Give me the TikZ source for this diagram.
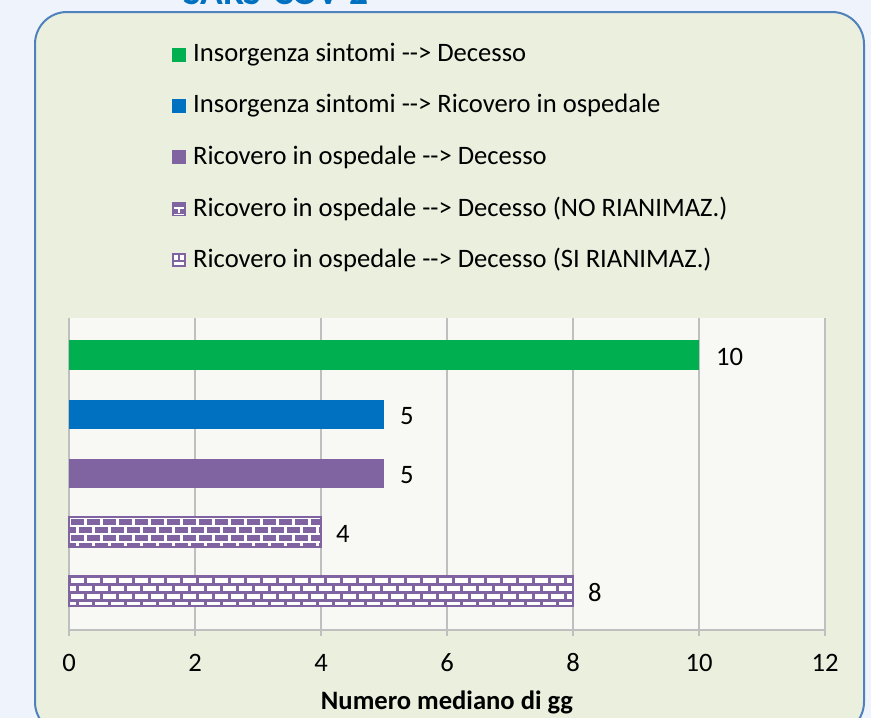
\documentclass[tikz,border=0pt]{standalone}
\usepackage{fontspec}
\setmainfont{Carlito}[Ligatures=TeXOff]
\definecolor{pagebg}{HTML}{EEF3FC}
\definecolor{panelbg}{HTML}{EBEFDE}
\definecolor{plotbg}{HTML}{F8F9F4}
\definecolor{panelline}{HTML}{4F81BD}
\definecolor{gridc}{HTML}{BFBFBF}
\definecolor{cgreen}{HTML}{00B050}
\definecolor{cblue}{HTML}{0070C0}
\definecolor{cpurple}{HTML}{8064A2}
\tikzset{
  lbl/.style={font=\fontsize{26.6}{26.6}\selectfont, text=black, inner sep=0pt},
  legtext/.style={lbl, anchor=west},
  gridline/.style={draw=gridc, line width=1.3pt},
}
\begin{document}
\begin{tikzpicture}[x=1pt,y=-1pt]
\useasboundingbox (0,0) rectangle (871,718);
\begin{scope}
\clip (0,0) rectangle (871,718);
\fill[pagebg] (0,0) rectangle (871,718);
\node[anchor=base west, inner sep=0pt, text=cblue, font=\fontsize{37.5}{37.5}\selectfont\bfseries] (title) at (183,4) {SARS-COV-2};
\draw[fill=panelbg, draw=panelline, line width=2pt, rounded corners=32pt] (35,12) rectangle (864,734);
% plot area
\fill[plotbg] (69,318) rectangle (825,630);
\foreach \i in {0,...,6} {
  \draw[gridline] ({69+126*\i},318) -- ({69+126*\i},636);
  \node[lbl] (tick\i) at ({69+126*\i},663) {\the\numexpr 2*\i\relax};
}
\draw[gridline] (69,630) -- (825,630);
% bars
\fill[cgreen] (69,340) rectangle (699,370);
\node[lbl, anchor=west] (v1) at (716,357) {10};
\fill[cblue] (69,400) rectangle (384,429);
\node[lbl, anchor=west] (v2) at (400,416) {5};
\fill[cpurple] (69,459) rectangle (384,488);
\node[lbl, anchor=west] (v3) at (400,475) {5};
% brick bar NO
\begin{scope}
\clip (69,517) rectangle (321,547);
\fill[cpurple] (69,517) rectangle (321,547);
\foreach \k in {0,...,4} {
  \draw[white, line width=2pt] (69,{517.5+8*\k}) -- (321,{517.5+8*\k});
  \pgfmathsetmacro{\off}{mod(\k,2)==0 ? 0 : 8}
  \foreach \j in {0,...,16} {
    \draw[white, line width=2.4pt] ({69+\off+16*\j+0.5},{517.5+8*\k}) -- ({69+\off+16*\j+0.5},{517.5+8*(\k+1)});
  }
}
\end{scope}
\draw[cpurple, line width=1.6pt] (69,517) rectangle (321,547);
\node[lbl, anchor=west] (v4) at (336,534) {4};
% brick bar SI
\begin{scope}
\clip (69,576) rectangle (573,606);
\fill[white] (69,576) rectangle (573,606);
\foreach \k in {0,...,4} {
  \draw[cpurple, line width=2.8pt] (69,{576.5+8*\k}) -- (573,{576.5+8*\k});
  \pgfmathsetmacro{\off}{mod(\k,2)==0 ? 0 : 8}
  \foreach \j in {0,...,32} {
    \draw[cpurple, line width=3pt] ({69+\off+16*\j+0.5},{576.5+8*\k}) -- ({69+\off+16*\j+0.5},{576.5+8*(\k+1)});
  }
}
\end{scope}
\draw[cpurple, line width=1.6pt] (69,576) rectangle (573,606);
\node[lbl, anchor=west] (v5) at (588,593) {8};
% axis title
\node[lbl, font=\fontsize{26.6}{26.6}\selectfont\bfseries] (xtitle) at (447,702) {Numero mediano di gg};
% legend
\fill[cgreen] (172,48) rectangle (186,62);
\node[legtext] (l1) at (193,55) {Insorgenza sintomi --> Decesso};
\fill[cblue] (172,99) rectangle (186,113);
\node[legtext] (l2) at (193,106) {Insorgenza sintomi --> Ricovero in ospedale};
\fill[cpurple] (172,150) rectangle (186,164);
\node[legtext] (l3) at (193,157) {Ricovero in ospedale --> Decesso};
\fill[cpurple] (172,202) rectangle (186,216);
\draw[white, line width=1.6pt] (174,208) -- (184,208);
\draw[white, line width=1.6pt] (179,208) -- (179,213);
\draw[white, line width=1.2pt] (174,214.5) -- (184,214.5);
\node[legtext] (l4) at (193,209) {Ricovero in ospedale --> Decesso (NO RIANIMAZ.)};
\fill[cpurple] (172,253) rectangle (186,267);
\fill[white] (174,255) rectangle (178.3,260);
\fill[white] (179.7,255) rectangle (184,260);
\fill[white] (174,261.5) rectangle (184,265);
\node[legtext] (l5) at (193,260) {Ricovero in ospedale --> Decesso (SI RIANIMAZ.)};
\end{scope}
\end{tikzpicture}
\end{document}
